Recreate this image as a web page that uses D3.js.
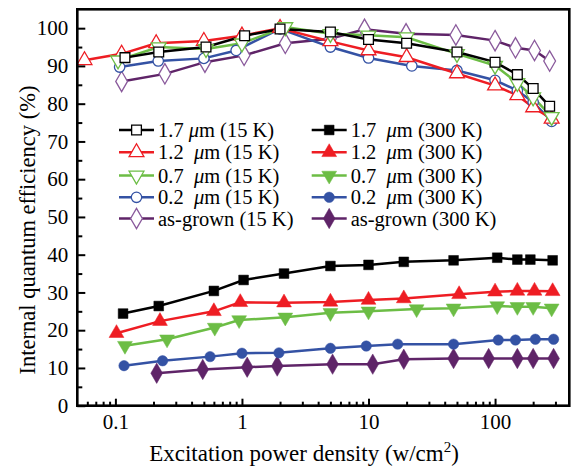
<!DOCTYPE html>
<html>
<head>
<meta charset="utf-8">
<script src="https://cdn.jsdelivr.net/npm/d3@7"></script>
<style>
  html, body { margin: 0; padding: 0; background: #fff; }
  svg { display: block; font-family: "Liberation Serif", "Times New Roman", serif; }
</style>
</head>
<body>
<svg id="chart" width="573" height="468"></svg>
<script>
// Excitation power density (W/cm^2) and internal quantum efficiency (%) per sample.
const bk15 = [[0.119,92.2],[0.22,93.7],[0.52,95],[1.05,98],[2.0,99.8],[5,99],[10,97],[20,96],[50,93.7],[100,91],[150,87.7],[200,84],[270,79.3]];
const rd15 = [[0.057,91.5],[0.112,93.2],[0.21,96],[0.5,96.6],[1.0,98],[2.0,100],[5,96.5],[10,94.1],[20,92.3],[50,88],[100,84.8],[150,82.2],[200,79],[280,76]];
const gr15 = [[0.105,91.5],[0.22,95],[0.52,94.5],[1.0,96],[2.2,100.3],[5,98.5],[10,98.1],[20,97.6],[50,93.2],[100,90.1],[150,85.5],[200,81.7],[280,76.5]];
const bl15 = [[0.108,89.7],[0.218,91.3],[0.5,92],[0.9,94.1],[2.0,99.8],[5,95],[10,92.1],[22,90],[50,88.8],[100,86.2],[150,83.5],[200,80.4],[280,75.3]];
const pu15 = [[0.112,85.9],[0.246,87.9],[0.51,91],[1.04,92.8],[2.2,96],[5,97.2],[9.3,99.7],[19.8,98.5],[49,98.2],[100,96.7],[145,94.8],[205,94.1],[270,91.3]];

const bk300 = [[0.115,24.4],[0.22,26.4],[0.6,30.4],[1.03,33.3],[2.15,35.0],[5,37.0],[10,37.3],[19,38.1],[47,38.5],[104,39.2],[150,38.7],[190,38.7],[285,38.5]];
const rd300 = [[0.102,19.2],[0.225,22.4],[0.6,25.0],[0.97,27.4],[2.15,27.3],[5,27.5],[10,28.0],[19,28.4],[52,29.5],[100,30.2],[150,30.4],[205,30.4],[285,30.3]];
const gr300 = [[0.119,15.9],[0.256,17.6],[0.61,20.7],[0.95,22.7],[2.2,23.4],[5,24.6],[10,25.0],[24,25.6],[47,25.8],[104,26.4],[150,26.2],[200,26.2],[280,25.8]];
const bl300 = [[0.117,10.6],[0.236,11.9],[0.56,13.0],[1.0,13.9],[1.96,14.0],[5,15.2],[9.6,15.8],[17,16.3],[47,16.3],[106,17.4],[145,17.4],[208,17.6],[290,17.6]];
const pu300 = [[0.212,8.6],[0.49,9.6],[1.1,10.2],[1.9,10.5],[5.2,11.0],[10.8,11.0],[19,12.3],[47,12.5],[89,12.5],[150,12.5],[200,12.5],[290,12.5]];

// legend entries (the wider gaps are non-breaking spaces)
const legendLeft = ["1.7 μm (15 K)", "1.2\u00A0 μm (15 K)", "0.7\u00A0 μm (15 K)", "0.2\u00A0 μm (15 K)", "as-grown (15 K)"];
const legendRight = ["1.7\u00A0 μm (300 K)", "1.2\u00A0 μm (300 K)", "0.7\u00A0 μm (300 K)", "0.2\u00A0 μm (300 K)", "as-grown (300 K)"];

const xMajorTicks = [0.1, 1, 10, 100];
const yMajorTicks = [0, 10, 20, 30, 40, 50, 60, 70, 80, 90, 100];
const yMinorTicks = [5, 15, 25, 35, 45, 55, 65, 75, 85, 95];

const xTitle = "Excitation power density (w/cm";
const yTitle = "Internal quantum efficiency (%)";

// Series styling
const colors = { bk: "#000000", rd: "#ee1d23", gr: "#6cbd45", bl: "#3452a4", pu: "#5f2468" };
const series = [
  { data: pu15, color: colors.pu, sym: d3.symbolDiamond, size: 120, open: true, stroke: "#8a5a9c" },
  { data: bl15, color: colors.bl, sym: d3.symbolCircle, size: 85, open: true },
  { data: rd15, color: colors.rd, sym: d3.symbolTriangle, size: 95, open: true },
  { data: gr15, color: colors.gr, sym: "down", size: 95, open: true },
  { data: bk15, color: colors.bk, sym: d3.symbolSquare, size: 95, open: true },
  { data: pu300, color: colors.pu, sym: d3.symbolDiamond, size: 120, open: false },
  { data: bl300, color: colors.bl, sym: d3.symbolCircle, size: 85, open: false },
  { data: gr300, color: colors.gr, sym: "down", size: 95, open: false },
  { data: rd300, color: colors.rd, sym: d3.symbolTriangle, size: 95, open: false },
  { data: bk300, color: colors.bk, sym: d3.symbolSquare, size: 95, open: false }
];

const svg = d3.select("#chart");
const mLeft = 77.3, mRight = 569.3, mTop = 9.3, mBottom = 405.7;

const x = d3.scaleLog().domain([0.05, 386]).range([mLeft, mRight]);
const y = d3.scaleLinear().domain([0, 105]).range([mBottom, mTop]);

// minor log ticks
const xMinorTicks = [];
for (const dec of [0.01, 0.1, 1, 10, 100]) {
  for (let k = 2; k <= 9; k++) {
    const v = dec * k;
    if (v > 0.05 && v < 386) xMinorTicks.push(v);
  }
}

function markerPath(s) {
  if (s.sym === "down") return d3.symbol(d3.symbolTriangle, s.size)();
  return d3.symbol(s.sym, s.size)();
}
function markerTransform(s, px, py) {
  return s.sym === "down" ? `translate(${px},${py}) rotate(180)` : `translate(${px},${py})`;
}

const line = d3.line().x(d => x(d[0])).y(d => y(d[1]));

const plot = svg.append("g");

// lines first, then markers on top
series.forEach(s => {
  plot.append("path")
    .datum(s.data)
    .attr("d", line)
    .attr("fill", "none")
    .attr("stroke", s.color)
    .attr("stroke-width", 2.5);
});
series.forEach(s => {
  plot.append("g").selectAll("path")
    .data(s.data)
    .join("path")
    .attr("d", markerPath(s))
    .attr("transform", d => markerTransform(s, x(d[0]), y(d[1])))
    .attr("fill", s.open ? "#fff" : s.color)
    .attr("stroke", s.open ? (s.stroke || s.color) : s.color)
    .attr("stroke-width", s.open ? 1.3 : 0.5);
});

// axes with inward ticks
svg.append("g").attr("transform", `translate(0,${mBottom})`)
  .call(d3.axisBottom(x).tickValues(xMajorTicks).tickFormat(d3.format("")).tickSize(-7).tickPadding(8));
svg.append("g").attr("transform", `translate(0,${mBottom})`)
  .call(d3.axisBottom(x).tickValues(xMinorTicks).tickFormat("").tickSize(-4));
svg.append("g").attr("transform", `translate(${mLeft},0)`)
  .call(d3.axisLeft(y).tickValues(yMajorTicks).tickSize(-8).tickPadding(9));
svg.append("g").attr("transform", `translate(${mLeft},0)`)
  .call(d3.axisLeft(y).tickValues(yMinorTicks).tickFormat("").tickSize(-5));

svg.selectAll(".domain").remove();
svg.selectAll(".tick line").attr("stroke", "#000").attr("stroke-width", 2);
svg.selectAll(".tick text").attr("font-size", 21).attr("fill", "#000")
  .attr("font-family", "Liberation Serif, Times New Roman, serif");

// frame
svg.append("rect")
  .attr("x", mLeft).attr("y", mTop)
  .attr("width", mRight - mLeft).attr("height", mBottom - mTop)
  .attr("fill", "none").attr("stroke", "#000").attr("stroke-width", 2.6);

// axis titles
const xt = svg.append("text")
  .attr("x", 304).attr("y", 461)
  .attr("text-anchor", "middle").attr("font-size", 23).attr("fill", "#000");
xt.append("tspan").text(xTitle);
xt.append("tspan").attr("dy", -9).attr("font-size", 15).text("2");
xt.append("tspan").attr("dy", 9).text(")");

svg.append("text")
  .attr("transform", `translate(35,230) rotate(-90)`)
  .attr("text-anchor", "middle").attr("font-size", 22.5).attr("fill", "#000")
  .text(yTitle);

// legend
const legendRows = [130, 152.3, 175.5, 197.3, 218.5];
const legendOrder = [
  [colors.bk, d3.symbolSquare, 95],
  [colors.rd, d3.symbolTriangle, 95],
  [colors.gr, "down", 95],
  [colors.bl, d3.symbolCircle, 85],
  [colors.pu, d3.symbolDiamond, 120]
];
const legCols = [
  { x0: 119, labels: legendLeft, open: true },
  { x0: 311.7, labels: legendRight, open: false }
];

function addLabel(g, str, lx, ly) {
  const t = g.append("text").attr("x", lx).attr("y", ly).attr("dy", "0.35em")
    .attr("font-size", 20.5).attr("fill", "#000");
  const parts = str.split("μ");
  t.append("tspan").text(parts[0]);
  if (parts.length > 1) {
    t.append("tspan").attr("font-style", "italic").text("μ");
    t.append("tspan").text(parts[1]);
  }
}

const leg = svg.append("g");
legCols.forEach(col => {
  legendOrder.forEach((row, i) => {
    const ly = legendRows[i];
    const s = { sym: row[1], size: row[2] };
    leg.append("line")
      .attr("x1", col.x0).attr("x2", col.x0 + 35)
      .attr("y1", ly).attr("y2", ly)
      .attr("stroke", row[0]).attr("stroke-width", 2.5);
    leg.append("path")
      .attr("d", markerPath(s))
      .attr("transform", markerTransform(s, col.x0 + 17.5, ly))
      .attr("fill", col.open ? "#fff" : row[0])
      .attr("stroke", col.open && row[0] === colors.pu ? "#8a5a9c" : row[0])
      .attr("stroke-width", col.open ? 1.3 : 0.5);
    addLabel(leg, col.labels[i], col.x0 + 39, ly);
  });
});
</script>
</body>
</html>
